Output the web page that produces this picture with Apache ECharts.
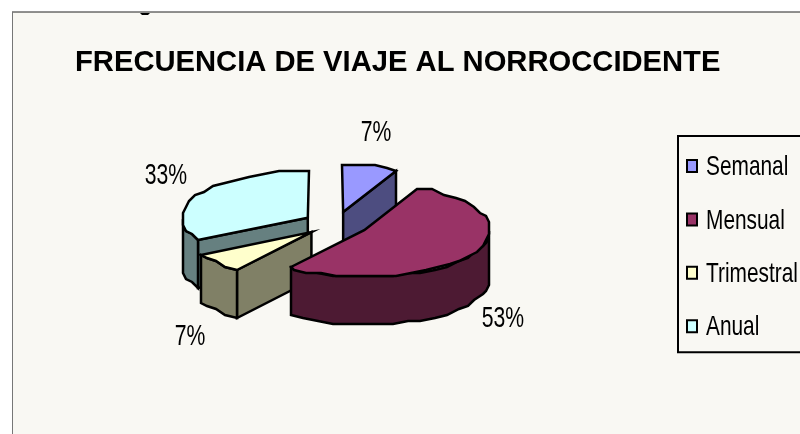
<!DOCTYPE html>
<html>
<head>
<meta charset="utf-8">
<style>html,body{margin:0;padding:0;background:#fff}#c{width:800px;height:434px}</style>
<script src="https://cdn.jsdelivr.net/npm/echarts@6/dist/echarts.min.js"></script>
</head>
<body>
<div id="c"></div>
<script>
const titleText = 'FRECUENCIA DE VIAJE AL NORROCCIDENTE';
const categories = ['Semanal', 'Mensual', 'Trimestral', 'Anual'];
const values = [7, 53, 7, 33];
const topColors = ['#9999FF', '#993366', '#FFFFCC', '#CCFFFF'];
const sideColors = ['#4D4D80', '#4D1A33', '#808066', '#668080'];
const drawOrder = ['Anual', 'Semanal', 'Trimestral', 'Mensual'];

// Projection of the pie and placement of its percentage labels
const PIE = {cx: 336, cy: 224, a: 126, b: 47, depth: 48, explode: 0.26, step: 7, snap: 3};
const labelAnchors = [[376, 133], [503, 319], [190, 337], [166, 176]];
const legendLayout = {textX: 706, firstY: 167.5, gap: 53.4};
const FONT = '"Liberation Sans", Arial, sans-serif';

const total = values.reduce((s, v) => s + v, 0);
const rad = d => d * Math.PI / 180;
const snap = v => Math.round(v / PIE.snap) * PIE.snap;

function sliceAngles(i) {
  const before = values.slice(0, i).reduce((s, v) => s + v, 0);
  return [before / total * 360, (before + values[i]) / total * 360];
}
function render(i) {
  return function () {
    const [start, end] = sliceAngles(i);
    const mid = rad((start + end) / 2);
    const cx = PIE.cx + PIE.explode * PIE.a * Math.sin(mid);
    const cy = PIE.cy - PIE.explode * PIE.b * Math.cos(mid);
    const rim = t => [snap(cx + PIE.a * Math.sin(rad(t))), snap(cy - PIE.b * Math.cos(rad(t)))];
    const arc = (s, e) => {
      const pts = [];
      for (let t = s; t < e; t += PIE.step) pts.push(rim(t));
      pts.push(rim(e));
      return pts;
    };
    const down = p => [p[0], p[1] + PIE.depth];
    const centre = [cx, cy];
    const line = {stroke: '#000', lineWidth: 2.5, lineJoin: 'miter'};
    const poly = (points, fill) => ({type: 'polygon', shape: {points}, style: Object.assign({fill}, line)});
    const children = [];
    const side = sideColors[i];
    if (Math.sin(rad(start)) < -1e-6) {
      const p = rim(start);
      children.push(poly([centre, p, down(p), down(centre)], side));
    }
    if (Math.sin(rad(end)) > 1e-6) {
      const p = rim(end);
      children.push(poly([centre, p, down(p), down(centre)], side));
    }
    const ws = Math.max(start, 90), we = Math.min(end, 270);
    if (we > ws) {
      const up = arc(ws, we);
      children.push(poly(up.concat(up.slice().reverse().map(down)), side));
    }
    children.push(poly([centre].concat(arc(start, end)), topColors[i]));
    children.push({
      type: 'text', x: labelAnchors[i][0], y: labelAnchors[i][1], scaleX: 0.73,
      style: {text: values[i] + '%', font: '29px ' + FONT, fill: '#000', align: 'center', verticalAlign: 'middle'}
    });
    return {type: 'group', children};
  };
}

const chart = echarts.init(document.getElementById('c'), null, {renderer: 'canvas'});
chart.setOption({
  animation: false,
  backgroundColor: '#fff',
  title: {
    text: titleText, left: 75, top: 48, padding: 0,
    textStyle: {fontFamily: FONT, fontWeight: 'bold', fontSize: 29.2, color: '#000'}
  },
  legend: {
    show: true, orient: 'vertical', left: 678, top: 136,
    padding: [23, 120, 19, 8], itemGap: 39.4, itemWidth: 10, itemHeight: 12, icon: 'rect',
    borderColor: '#000', borderWidth: 2, selectedMode: false, itemStyle: {borderColor: '#000', borderWidth: 2},
    formatter: () => ' ',
    textStyle: {fontSize: 1},
    data: categories
  },
  graphic: [
    {type: 'rect', z: -1, shape: {x: 12, y: 12, width: 800, height: 430}, style: {fill: '#F9F8F3', stroke: null}},
    {type: 'line', z: -1, shape: {x1: 12, y1: 12, x2: 800, y2: 12}, style: {stroke: '#222', lineWidth: 1}},
    {type: 'line', z: -1, shape: {x1: 12.5, y1: 12, x2: 12.5, y2: 434}, style: {stroke: '#777', lineWidth: 1}},
    {type: 'polygon', z: -1, shape: {points: [[140, 13], [150, 13], [148, 15], [142, 15]]}, style: {fill: '#000'}}
  ].concat(categories.map((name, i) => ({
    type: 'text', z: 10, x: legendLayout.textX, y: legendLayout.firstY + i * legendLayout.gap, scaleX: 0.745,
    style: {text: name, font: '28px ' + FONT, fill: '#000', align: 'left', verticalAlign: 'middle'}
  }))),
  series: categories.map((name, i) => ({
    type: 'custom', name, coordinateSystem: 'none', silent: true,
    z: 2 + drawOrder.indexOf(name),
    itemStyle: {color: topColors[i]},
    data: [values[i]],
    renderItem: render(i)
  }))
});
</script>
</body>
</html>
